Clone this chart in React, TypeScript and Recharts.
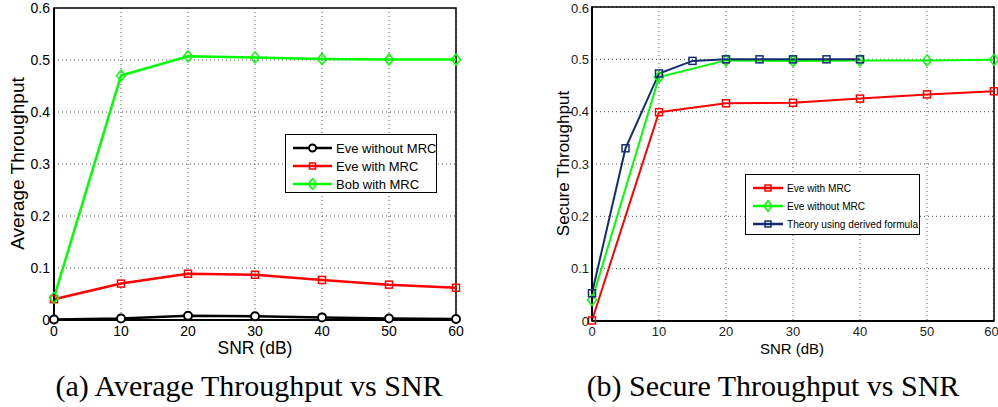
import React from "react";
import {
  LineChart,
  Line,
  XAxis,
  YAxis,
  CartesianGrid,
  ReferenceArea,
} from "recharts";

// (a) Average Throughput vs SNR
const snrA = [0, 10, 20, 30, 40, 50, 60];
const eveSinMrcA = [0.001, 0.003, 0.008, 0.007, 0.005, 0.003, 0.002];
const eveConMrcA = [0.04, 0.07, 0.089, 0.087, 0.077, 0.068, 0.062];
const bobConMrcA = [0.043, 0.47, 0.507, 0.505, 0.502, 0.501, 0.501];

// (b) Secure Throughput vs SNR
const snrB = [0, 10, 20, 30, 40, 50, 60];
const eveConMrcB = [0.001, 0.399, 0.416, 0.417, 0.425, 0.433, 0.439];
const eveSinMrcB = [0.04, 0.466, 0.498, 0.497, 0.498, 0.498, 0.499];
const snrTeoria = [0, 5, 10, 15, 20, 25, 30, 35, 40];
const teoriaB = [0.053, 0.33, 0.473, 0.497, 0.5, 0.5, 0.5, 0.5, 0.5];

const xTicks = [0, 10, 20, 30, 40, 50, 60];
const yTicks = [0, 0.1, 0.2, 0.3, 0.4, 0.5, 0.6];

const NEGRO = "#000000";
const ROJO = "#ff0000";
const VERDE = "#00ff00";
const AZUL = "#142b73";
const FUENTE = "'Liberation Sans', Arial, Helvetica, sans-serif";
const SERIF = "'Liberation Serif', 'Times New Roman', serif";

const pares = (xs: number[], ys: number[]) => xs.map((x, i) => ({ x, y: ys[i] }));

const Cuadro = (props: any) => {
  const { cx, cy, stroke } = props;
  if (cx == null || cy == null) return null;
  return (
    <rect x={cx - 3.5} y={cy - 3.5} width={7} height={7} fill="none" stroke={stroke} strokeWidth={1.5} />
  );
};

const Rombo = (props: any) => {
  const { cx, cy, stroke } = props;
  if (cx == null || cy == null) return null;
  return (
    <polygon
      points={`${cx},${cy - 5.5} ${cx + 4.5},${cy} ${cx},${cy + 5.5} ${cx - 4.5},${cy}`}
      fill="none"
      stroke={stroke}
      strokeWidth={1.5}
    />
  );
};

const Muestra: React.FC<{ color: string; marca: "o" | "s" | "d"; ancho: number }> = ({ color, marca, ancho }) => {
  const c = ancho / 2;
  return (
    <svg width={ancho} height={12} style={{ display: "block", flexShrink: 0 }}>
      <line x1={0} y1={6} x2={ancho} y2={6} stroke={color} strokeWidth={2.5} />
      {marca === "o" && <circle cx={c} cy={6} r={3.5} fill="#fff" stroke={color} strokeWidth={2} />}
      {marca === "s" && <rect x={c - 3} y={3} width={6} height={6} fill="none" stroke={color} strokeWidth={1.5} />}
      {marca === "d" && (
        <polygon points={`${c},0.5 ${c + 4},6 ${c},11.5 ${c - 4},6`} fill="none" stroke={color} strokeWidth={1.5} />
      )}
    </svg>
  );
};

const Leyenda: React.FC<{
  items: { nombre: string; color: string; marca: "o" | "s" | "d" }[];
  left: number;
  top: number;
  width: number;
  height: number;
  fontSize: number;
  ancho: number;
  fila: number;
  escalaX?: number;
}> = ({ items, left, top, width, height, fontSize, ancho, fila, escalaX = 1 }) => (
  <div
    style={{
      position: "absolute",
      left,
      top,
      width,
      height,
      boxSizing: "border-box",
      border: "1.5px solid #000",
      background: "#fff",
      fontFamily: FUENTE,
      fontSize,
      padding: "4px 0 0 7px",
      overflow: "hidden",
    }}
  >
    {items.map((it) => (
      <div key={it.nombre} style={{ display: "flex", alignItems: "center", height: fila, whiteSpace: "nowrap" }}>
        <Muestra color={it.color} marca={it.marca} ancho={ancho} />
        <span
          style={{
            marginLeft: 4,
            display: "inline-block",
            flexShrink: 0,
            transform: `scaleX(${escalaX})`,
            transformOrigin: "left center",
          }}
        >
          {it.nombre}
        </span>
      </div>
    ))}
  </div>
);

const fmtY = (v: number) => (v === 0 ? "0" : v.toFixed(1));

const TextoVertical: React.FC<{ texto: string; cx: number; cy: number; fontSize: number }> = ({ texto, cx, cy, fontSize }) => (
  <div
    style={{
      position: "absolute",
      left: cx - 120,
      top: cy - fontSize / 2 - 2,
      width: 240,
      textAlign: "center",
      fontFamily: FUENTE,
      fontSize,
      lineHeight: `${fontSize + 4}px`,
      transform: "rotate(-90deg)",
      whiteSpace: "nowrap",
    }}
  >
    {texto}
  </div>
);

const Texto: React.FC<{ texto: string; cx: number; cy: number; fontSize: number; familia?: string }> = ({
  texto,
  cx,
  cy,
  fontSize,
  familia = FUENTE,
}) => (
  <div
    style={{
      position: "absolute",
      left: cx - 250,
      top: cy - (fontSize + 4) / 2,
      width: 500,
      textAlign: "center",
      fontFamily: familia,
      fontSize,
      lineHeight: `${fontSize + 4}px`,
      whiteSpace: "nowrap",
    }}
  >
    {texto}
  </div>
);

const App: React.FC = () => {
  return (
    <div
      style={{
        position: "absolute",
        left: 0,
        top: 0,
        width: 998,
        height: 407,
        background: "#fff",
        overflow: "hidden",
      }}
    >
      {/* (a) */}
      <div style={{ position: "absolute", left: 0, top: 0 }}>
        <LineChart width={470} height={345} margin={{ top: 8, right: 14, left: 0, bottom: 0 }}>
          <CartesianGrid stroke="#555" strokeDasharray="1 3" strokeWidth={1} />
          <XAxis
            dataKey="x"
            type="number"
            domain={[0, 60]}
            ticks={xTicks}
            height={25}
            tickLine={false}
            tickSize={0}
            tickMargin={6}
            axisLine={{ stroke: NEGRO, strokeWidth: 2 }}
            tick={{ fill: NEGRO, fontSize: 14, fontFamily: FUENTE }}
            allowDuplicatedCategory={false}
          />
          <YAxis
            type="number"
            domain={[0, 0.6]}
            ticks={yTicks}
            width={54}
            tickLine={false}
            tickSize={0}
            tickMargin={4}
            tickFormatter={fmtY}
            axisLine={{ stroke: NEGRO, strokeWidth: 2 }}
            tick={{ fill: NEGRO, fontSize: 14, fontFamily: FUENTE }}
          />
          <ReferenceArea x1={0} x2={60} y1={0} y2={0.6} fill="none" stroke={NEGRO} strokeWidth={1.5} />
          <Line
            data={pares(snrA, eveSinMrcA)}
            dataKey="y"
            name="Eve without MRC"
            type="linear"
            stroke={NEGRO}
            strokeWidth={2.5}
            dot={{ r: 4, fill: "#fff", stroke: NEGRO, strokeWidth: 2 }}
            isAnimationActive={false}
          />
          <Line
            data={pares(snrA, eveConMrcA)}
            dataKey="y"
            name="Eve with MRC"
            type="linear"
            stroke={ROJO}
            strokeWidth={2.5}
            dot={<Cuadro />}
            isAnimationActive={false}
          />
          <Line
            data={pares(snrA, bobConMrcA)}
            dataKey="y"
            name="Bob with MRC"
            type="linear"
            stroke={VERDE}
            strokeWidth={2.5}
            dot={<Rombo />}
            isAnimationActive={false}
          />
        </LineChart>
      </div>
      <TextoVertical texto="Average Throughput" cx={17} cy={163} fontSize={19} />
      <Texto texto="SNR (dB)" cx={255} cy={349} fontSize={17.5} />
      <Leyenda
        items={[
          { nombre: "Eve without MRC", color: NEGRO, marca: "o" },
          { nombre: "Eve with MRC", color: ROJO, marca: "s" },
          { nombre: "Bob with MRC", color: VERDE, marca: "d" },
        ]}
        left={285}
        top={134}
        width={152}
        height={59}
        fontSize={13}
        ancho={39}
        fila={18}
      />

      {/* (b) */}
      <div style={{ position: "absolute", left: 540, top: 0 }}>
        <LineChart width={458} height={345} margin={{ top: 7, right: 4, left: 0, bottom: 0 }}>
          <CartesianGrid stroke="#555" strokeDasharray="1 3" strokeWidth={1} />
          <XAxis
            dataKey="x"
            type="number"
            domain={[0, 60]}
            ticks={xTicks}
            height={24}
            tickLine={false}
            tickSize={0}
            tickMargin={6}
            axisLine={{ stroke: NEGRO, strokeWidth: 2 }}
            tick={{ fill: "#222", fontSize: 13, fontFamily: FUENTE }}
            allowDuplicatedCategory={false}
          />
          <YAxis
            type="number"
            domain={[0, 0.6]}
            ticks={yTicks}
            width={52}
            tickLine={false}
            tickSize={0}
            tickMargin={3}
            tickFormatter={fmtY}
            axisLine={{ stroke: NEGRO, strokeWidth: 2 }}
            tick={{ fill: "#222", fontSize: 13, fontFamily: FUENTE }}
          />
          <ReferenceArea x1={0} x2={60} y1={0} y2={0.6} fill="none" stroke={NEGRO} strokeWidth={1.5} />
          <Line
            data={pares(snrB, eveConMrcB)}
            dataKey="y"
            name="Eve with MRC"
            type="linear"
            stroke={ROJO}
            strokeWidth={2}
            dot={<Cuadro />}
            isAnimationActive={false}
          />
          <Line
            data={pares(snrB, eveSinMrcB)}
            dataKey="y"
            name="Eve without MRC"
            type="linear"
            stroke={VERDE}
            strokeWidth={2}
            dot={<Rombo />}
            isAnimationActive={false}
          />
          <Line
            data={pares(snrTeoria, teoriaB)}
            dataKey="y"
            name="Theory using derived formula"
            type="linear"
            stroke={AZUL}
            strokeWidth={2}
            dot={<Cuadro />}
            isAnimationActive={false}
          />
        </LineChart>
      </div>
      <TextoVertical texto="Secure Throughput" cx={563} cy={163} fontSize={17} />
      <Texto texto="SNR (dB)" cx={792} cy={348} fontSize={15} />
      <Leyenda
        items={[
          { nombre: "Eve with MRC", color: ROJO, marca: "s" },
          { nombre: "Eve without MRC", color: VERDE, marca: "d" },
          { nombre: "Theory using derived formula", color: AZUL, marca: "s" },
        ]}
        left={745}
        top={174}
        width={175}
        height={61}
        fontSize={11.5}
        ancho={30}
        fila={18}
        escalaX={0.88}
      />

      {/* pies de figura */}
      <Texto texto="(a) Average Throughput vs SNR" cx={249} cy={386} fontSize={30} familia={SERIF} />
      <Texto texto="(b) Secure Throughput vs SNR" cx={773} cy={386} fontSize={30} familia={SERIF} />
    </div>
  );
};

export default App;
